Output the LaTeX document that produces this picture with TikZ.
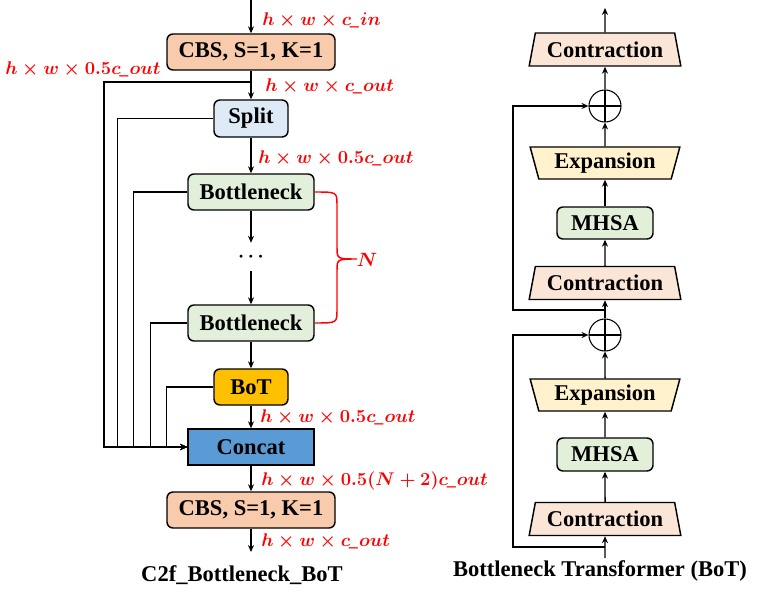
\documentclass[tikz,border=0pt]{standalone}
\usepackage{fontspec}
\setmainfont{Liberation Serif}
\usetikzlibrary{arrows.meta,shapes.geometric}
\definecolor{cbsc}{HTML}{F8CBAD}
\definecolor{splitc}{HTML}{DEEBF7}
\definecolor{bneckc}{HTML}{E2EFDA}
\definecolor{botc}{HTML}{FFC000}
\definecolor{concatc}{HTML}{5B9BD5}
\definecolor{contrc}{HTML}{FBE5D6}
\definecolor{expanc}{HTML}{FFF2CC}
\definecolor{mhsac}{HTML}{E2F0D9}
\definecolor{lblred}{HTML}{FF0000}
\newcommand\boxfont{\fontsize{16.9}{20}\selectfont\bfseries}
\newcommand\lblfont{\fontsize{14}{16}\selectfont\boldmath}
\newcommand\us{\mbox{\bfseries\itshape\_}}
\newcommand\lbltext[1]{\scalebox{0.955}{$#1$}}
\begin{document}
\begin{tikzpicture}[x=0.75pt,y=-0.75pt,
  bw/.style={minimum width={#1*0.75pt}},
  bh/.style={minimum height={#1*0.75pt}},
  box/.style={draw=black, line width=1.1pt, rounded corners=4.5pt, font=\boxfont, inner sep=0pt, bh=36},
  sharpbox/.style={draw=black, line width=1.1pt, font=\boxfont, inner sep=0pt, bh=36},
  trap/.style={shape=trapezium, draw=black, line width=1.1pt, font=\boxfont, inner sep=0pt,
    trapezium left angle=72, trapezium right angle=72, trapezium stretches=true, bw=152, bh=33},
  trapinv/.style={shape=trapezium, draw=black, line width=1.1pt, font=\boxfont, inner sep=0pt,
    trapezium left angle=108, trapezium right angle=108, trapezium stretches=true, bw=150, bh=32},
  plusnode/.style={circle, draw=black, line width=0.8pt, inner sep=0pt, minimum size={32*0.75pt},
    path picture={\draw[line width=0.8pt] (path picture bounding box.north) -- (path picture bounding box.south)
      (path picture bounding box.west) -- (path picture bounding box.east);}},
  arr/.style={line width=1.1pt, -{Stealth[length=5.2pt,width=4.5pt]}},
  lbl/.style={text=lblred, anchor=west, inner sep=0pt, font=\lblfont},
]
\useasboundingbox (0,0) rectangle (768,599);

% ---------- left: C2f_Bottleneck_BoT ----------
\node[box, fill=cbsc, bw=168] (cbs1) at (251,52) {CBS, S=1, K=1};
\node[box, fill=splitc, bw=74, bh=37] (split) at (251,118.5) {Split};
\node[box, fill=bneckc, bw=126] (b1) at (251,192) {Bottleneck};
\node[inner sep=0pt, bh=28, font=\fontsize{14}{16}\selectfont\boldmath] (dots) at (251,257) {$\cdots$};
\node[box, fill=bneckc, bw=126] (b2) at (251,323) {Bottleneck};
\node[box, fill=botc, bw=74] (bot) at (251,387) {BoT};
\node[sharpbox, fill=concatc, bw=126] (concat) at (251,447) {Concat};
\node[box, fill=cbsc, bw=168] (cbs2) at (251,510) {CBS, S=1, K=1};

\coordinate (in1) at (251,0);
\coordinate (j1) at (251,82);
\coordinate (out1) at (251,552);

\draw[arr] (in1) -- (cbs1);
\draw[arr] (cbs1) -- (split);
\draw[arr] (split) -- (b1);
\draw[arr] (b1) -- (dots);
\draw[arr] (dots) -- (b2);
\draw[arr] (b2) -- (bot);
\draw[arr] (bot) -- (concat);
\draw[arr] (concat) -- (cbs2);
\draw[arr] (cbs2) -- (out1);

\draw[arr] (j1) -- ++(-147,0) |- (concat.west);
\draw[arr] (split.west) -- ++(-96,0) |- (concat.west);
\draw[arr] (b1.west) -- ++(-54,0) |- (concat.west);
\draw[arr] (b2.west) -- ++(-37,0) |- (concat.west);
\draw[arr] (bot.west) -- ++(-47,0) |- (concat.west);

\draw[lblred, line width=1.1pt] (b1.east) .. controls (337,192) .. (337,205) -- (337,247)
  .. controls (337,259) .. (357,259) .. controls (337,259) .. (337,271) -- (337,310)
  .. controls (337,323) .. (b2.east);
\node[text=lblred, font=\lblfont, inner sep=0pt] (nlab) at (367,260) {$N$};

\node[lbl] (l1) at (262,20) {\lbltext{h\times w\times c\us in}};
\node[lbl] (l2) at (5,69) {\lbltext{h\times w\times 0.5c\us out}};
\node[lbl] (l3) at (265,86) {\lbltext{h\times w\times c\us out}};
\node[lbl] (l4) at (258,158) {\lbltext{h\times w\times 0.5c\us out}};
\node[lbl] (l5) at (260,417) {\lbltext{h\times w\times 0.5c\us out}};
\node[lbl] (l6) at (261,481) {\lbltext{h\times w\times 0.5(N+2)c\us out}};
\node[lbl] (l7) at (261,541) {\lbltext{h\times w\times c\us out}};

\node[font=\boxfont, inner sep=0pt] (cap1) at (242,575) {C2f\_Bottleneck\_BoT};

% ---------- right: Bottleneck Transformer ----------
\node[trap, fill=contrc] (c0) at (605,49.5) {Contraction};
\node[plusnode] (p1) at (605,106) {};
\node[trapinv, fill=expanc] (e1) at (605,163) {Expansion};
\node[box, fill=mhsac, bw=96, bh=32] (m1) at (605,223) {MHSA};
\node[trap, fill=contrc] (c1) at (605,283) {Contraction};
\node[plusnode] (p2) at (605,335) {};
\node[trapinv, fill=expanc] (e2) at (605,395) {Expansion};
\node[box, fill=mhsac, bw=96, bh=33] (m2) at (605,454.5) {MHSA};
\node[trap, fill=contrc] (c2) at (605,519) {Contraction};

\coordinate (out2) at (605,8);
\coordinate (in2) at (605,558);
\coordinate (s1) at (605,310);
\coordinate (s2) at (605,547);

\draw[arr] (c0) -- (out2);
\draw[arr] (p1) -- (c0);
\draw[arr] (e1) -- (p1);
\draw[arr] (m1) -- (e1);
\draw[arr] (c1) -- (m1);
\draw[arr] (p2) -- (c1);
\draw[arr] (e2) -- (p2);
\draw[arr] (m2) -- (e2);
\draw[arr] (c2) -- (m2);
\draw[arr] (in2) -- (c2);
\draw[arr] (s1) -- ++(-92,0) |- (p1.west);
\draw[arr] (s2) -- ++(-92,0) |- (p2.west);

\node[font=\boxfont, inner sep=0pt] (cap2) at (600,571) {Bottleneck Transformer (BoT)};
\end{tikzpicture}
\end{document}
